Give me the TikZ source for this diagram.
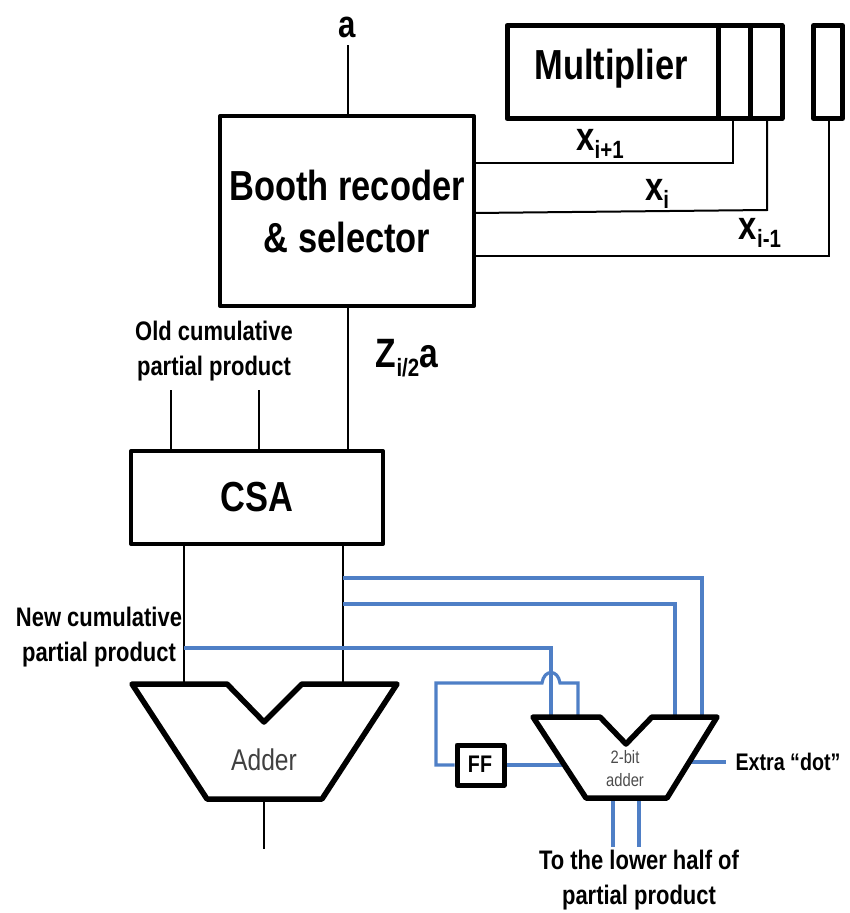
\documentclass[tikz,border=0pt]{standalone}
\usepackage{fontspec}
\setmainfont{Liberation Sans}
\definecolor{wireblue}{HTML}{4F7FC6}
\newcommand{\lowtxt}[2]{#1\raisebox{-.22em}{\fontsize{25}{25}\selectfont #2}}
\tikzset{
  lbl/.style={transform shape,xscale=.82,inner sep=0pt,align=center},
  biglbl/.style={lbl,font=\fontsize{42}{42}\selectfont\bfseries},
  smalllbl/.style={lbl,font=\fontsize{26.8}{35}\selectfont\bfseries},
  boxnode/.style={draw=black,line width=4pt,line join=round,inner sep=0pt},
  thickbox/.style={boxnode,line width=5pt},
  wire/.style={line width=2pt},
  bluewire/.style={draw=wireblue,line width=3.2pt},
  addershape/.style={draw=black,line width=5.5pt,line join=round}
}

\begin{document}
\begin{tikzpicture}[x=1pt,y=-1pt]
  \useasboundingbox (0,0) rectangle (850,913);

  % boxes
  \node[boxnode,minimum width=254pt,minimum height=190pt] (booth) at (347,211) {};
  \node[boxnode,minimum width=252pt,minimum height=93pt] (csa) at (257,497.5) {};
  \node[thickbox,minimum width=211pt,minimum height=93pt] (mult) at (612.5,72) {};
  \node[thickbox,minimum width=32pt,minimum height=93pt] (cellA) at (734,72) {};
  \node[thickbox,minimum width=32pt,minimum height=93pt] (cellB) at (766,72) {};
  \node[thickbox,minimum width=29pt,minimum height=93pt] (cellC) at (828,72) {};
  \node[thickbox,minimum width=47pt,minimum height=40pt] (ff) at (480.5,765) {};

  % corners of the two adders
  \foreach [count=\n] \x/\y in {132/684,227/684,264/722,302/684,397/684,322/799,207/799} {
    \coordinate (addL\n) at (\x,\y);
  };
  \foreach [count=\n] \x/\y in {533/717,600/717,626/744,652/717,717/717,667/798,586/798} {
    \coordinate (addS\n) at (\x,\y);
  };

  % labels
  \node[biglbl] (boothtxt) at (347,211.5) {Booth recoder\\[10pt]\& selector};
  \node[biglbl] (multtxt) at (611,69) {Multiplier};
  \node[biglbl] (csatxt) at (257,497) {CSA};
  \node[lbl,font=\fontsize{38}{38}\selectfont\bfseries] (atxt) at (347,27) {a};
  \node[lbl,font=\fontsize{40}{40}\selectfont\bfseries] (xa) at (600,144) {\lowtxt{x}{i+1}};
  \node[lbl,font=\fontsize{40}{40}\selectfont\bfseries] (xb) at (657,194) {\lowtxt{x}{i}};
  \node[lbl,font=\fontsize{40}{40}\selectfont\bfseries] (xc) at (760,233) {\lowtxt{x}{i-1}};
  \node[lbl,font=\fontsize{41}{41}\selectfont\bfseries] (ztxt) at (407,358) {\lowtxt{Z}{i/2}a};
  \node[smalllbl] (oldtxt) at (214,351) {Old cumulative\\partial product};
  \node[smalllbl] (newtxt) at (99,637) {New cumulative\\partial product};
  \node[smalllbl] (lowtext) at (639,880) {To the lower half of\\partial product};
  \node[lbl,font=\fontsize{24}{24}\selectfont\bfseries] (dottxt) at (788,762) {Extra ``dot''};
  \node[lbl,font=\fontsize{30}{30}\selectfont,text=black!75] (addtxt) at (264,760) {Adder};
  \node[lbl,font=\fontsize{18}{23}\selectfont,text=black!70] (addstxt) at (625,769) {2-bit\\adder};
  \node[lbl,font=\fontsize{24}{24}\selectfont\bfseries] (fftxt) at (480,764) {FF};

  % free ends
  \coordinate (aEnd) at (348,45);
  \coordinate (oldA) at (171,390);
  \coordinate (oldB) at (259,390);
  \coordinate (outEnd) at (264,849);
  \coordinate (dotEnd) at (726,762);
  \coordinate (dotStart) at (690,762);
  \coordinate (lowA) at (613,847);
  \coordinate (lowB) at (639,847);

  % where the wires meet
  \coordinate (sumA) at (184,684);
  \coordinate (sumB) at (343,684);
  \coordinate (tapA) at (343,578);
  \coordinate (tapB) at (343,604);
  \coordinate (tapC) at (184,648);
  \coordinate (inA) at (551,717);
  \coordinate (inB) at (578,717);
  \coordinate (inC) at (675,717);
  \coordinate (inD) at (702,717);
  \coordinate (hopL) at (542,683);
  \coordinate (hopR) at (560,683);
  \coordinate (ffLoop) at (436,683);
  \coordinate (addSide) at (565,765);
  \coordinate (joinA) at (733,163);
  \coordinate (joinB) at (767,210);
  \coordinate (joinC) at (828.5,256);
  \coordinate (boothB) at (474,213);

  % black wires
  \draw[wire] (aEnd) -- (aEnd |- booth.north);
  \draw[wire] (aEnd |- booth.south) -- (aEnd |- csa.north);
  \draw[wire] (oldA) -- (oldA |- csa.north);
  \draw[wire] (oldB) -- (oldB |- csa.north);
  \draw[wire] (sumA |- csa.south) -- (sumA);
  \draw[wire] (sumB |- csa.south) -- (sumB);
  \draw[wire] (addL3 |- addL6) -- (outEnd);
  \draw[wire] (joinA |- cellA.south) -- (joinA) -- (joinA -| booth.east);
  \draw[wire] (joinB |- cellB.south) -- (joinB) -- (boothB);
  \draw[wire] (joinC |- cellC.south) -- (joinC) -- (joinC -| booth.east);

  % blue wires
  \draw[bluewire] (tapA) -| (inD);
  \draw[bluewire] (tapB) -| (inC);
  \draw[bluewire] (tapC) -| (inA);
  \draw[bluewire] (ff.west) -| (ffLoop) -- (hopL)
    .. controls (544,669) and (558,669) .. (hopR) -| (inB);
  \draw[bluewire] (ff.east) -- (addSide);
  \draw[bluewire] (dotStart) -- (dotEnd);
  \draw[bluewire] (lowA |- addS6) -- (lowA);
  \draw[bluewire] (lowB |- addS6) -- (lowB);

  % adders
  \draw[addershape] (addL1) -- (addL2) -- (addL3) -- (addL4) -- (addL5) -- (addL6) -- (addL7) -- cycle;
  \draw[addershape] (addS1) -- (addS2) -- (addS3) -- (addS4) -- (addS5) -- (addS6) -- (addS7) -- cycle;

\end{tikzpicture}
\end{document}
